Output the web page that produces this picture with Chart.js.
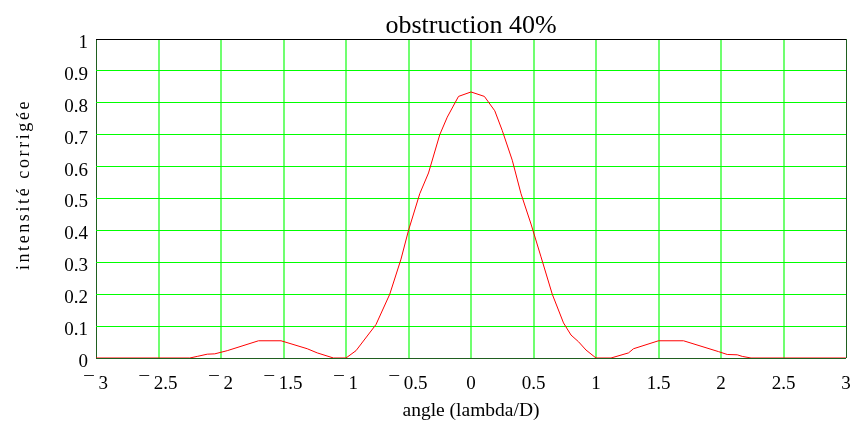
<!DOCTYPE html>
<html>
<head>
<meta charset="utf-8">
<script src="https://cdn.jsdelivr.net/npm/chart.js@4"></script>
<style>
  html, body { margin: 0; padding: 0; background: #fff; }
  #wrap { width: 862px; height: 428px; position: relative; }
</style>
</head>
<body>
<div id="wrap"><canvas id="chart"></canvas></div>
<script>
// ---- Data ----
const angles = [-3, -2.25, -2.19, -2.11, -2.05, -1.95, -1.70, -1.52, -1.31, -1.23, -1.10, -1.00,
  -0.92, -0.76, -0.65, -0.56, -0.50, -0.41, -0.34, -0.25, -0.19, -0.10, 0,
  0.107, 0.19, 0.25, 0.33, 0.40, 0.48, 0.56, 0.65, 0.74, 0.80, 0.86, 0.92, 1.00,
  1.12, 1.26, 1.30, 1.50, 1.70, 1.98, 2.05, 2.13, 2.17, 2.24, 3];
const intensity = [0, 0, 0.005, 0.012, 0.013, 0.023, 0.054, 0.054, 0.029, 0.016, 0, 0,
  0.023, 0.105, 0.2, 0.31, 0.40, 0.515, 0.58, 0.70, 0.755, 0.82, 0.834,
  0.82, 0.775, 0.713, 0.62, 0.515, 0.42, 0.317, 0.2, 0.11, 0.072, 0.051, 0.025, 0,
  0, 0.016, 0.029, 0.054, 0.054, 0.02, 0.011, 0.01, 0.005, 0, 0];

const xTicks = [-3, -2.5, -2, -1.5, -1, -0.5, 0, 0.5, 1, 1.5, 2, 2.5, 3];
const yTicks = [0, 0.1, 0.2, 0.3, 0.4, 0.5, 0.6, 0.7, 0.8, 0.9, 1];

const titleText = 'obstruction 40%';
const xTitle = 'angle (lambda/D)';
const yTitle = 'intensité corrigée';

const points = angles.map((a, i) => ({ x: a, y: intensity[i] }));
const FONT = "'Liberation Serif', 'Times New Roman', serif";

function fmtX(v) {
  const r = Math.round(v * 10) / 10;
  return r < 0 ? '\u00AF ' + Math.abs(r) : String(r);
}

// the y axis title in the original is spaced out and sits a little high
const spacedYTitle = {
  id: 'spacedYTitle',
  beforeDraw(chart) {
    const y = chart.scales.y;
    if (!y || y._spaced) return;
    const orig = y.drawTitle.bind(y);
    y.drawTitle = function () {
      const c = this.ctx;
      c.save();
      c.letterSpacing = '2.6px';
      c.translate(0, -14);
      orig();
      c.restore();
    };
    y._spaced = true;
  }
};

new Chart(document.getElementById('chart'), {
  type: 'line',
  data: {
    datasets: [{
      data: points,
      borderColor: '#ff0000',
      borderWidth: 1,
      pointRadius: 0,
      tension: 0,
      fill: false
    }]
  },
  plugins: [spacedYTitle],
  options: {
    responsive: true,
    maintainAspectRatio: false,
    animation: false,
    layout: { padding: { left: 0, right: 16, top: 0, bottom: 0 } },
    plugins: {
      legend: { display: false },
      tooltip: { enabled: false },
      title: {
        display: true,
        fullSize: false,
        text: titleText,
        color: '#000',
        font: { family: FONT, size: 26, weight: 'normal', lineHeight: 1 },
        padding: { top: 13, bottom: 0 }
      }
    },
    scales: {
      x: {
        type: 'linear',
        min: -3, max: 3,
        afterBuildTicks: s => { s.ticks = xTicks.map(v => ({ value: v })); },
        afterFit: s => { s.height = 70; },
        border: { display: false },
        grid: {
          drawTicks: true,
          tickLength: 15,
          tickColor: 'rgba(0,0,0,0)',
          color: c => (c.tick && (c.tick.value === -3 || c.tick.value === 3)) ? '#1f5f1f' : '#70ff70',
          lineWidth: c => (c.tick && (c.tick.value === -3 || c.tick.value === 3)) ? 1 : 2
        },
        ticks: {
          color: '#000',
          padding: 0,
          maxRotation: 0,
          autoSkip: false,
          font: { family: FONT, size: 19 },
          callback: v => fmtX(v)
        },
        title: {
          display: true,
          text: xTitle,
          color: '#000',
          font: { family: FONT, size: 19.5 },
          padding: { top: 0, bottom: 5 }
        }
      },
      y: {
        min: 0, max: 1,
        afterBuildTicks: s => { s.ticks = yTicks.map(v => ({ value: v })); },
        afterFit: s => { s.width = 96; },
        border: { display: false },
        grid: {
          drawTicks: false,
          color: c => {
            if (!c.tick) return '#00ff00';
            if (c.tick.value === 1) return '#000000';
            if (c.tick.value === 0) return '#1f5f1f';
            return '#00ff00';
          },
          lineWidth: 1
        },
        ticks: {
          color: '#000',
          padding: 8,
          labelOffset: 4,
          autoSkip: false,
          font: { family: FONT, size: 19 },
          callback: v => String(Math.round(v * 10) / 10)
        },
        title: {
          display: true,
          text: yTitle,
          color: '#000',
          font: { family: FONT, size: 18 },
          padding: { top: 13, bottom: 0 }
        }
      }
    }
  }
});
</script>
</body>
</html>
